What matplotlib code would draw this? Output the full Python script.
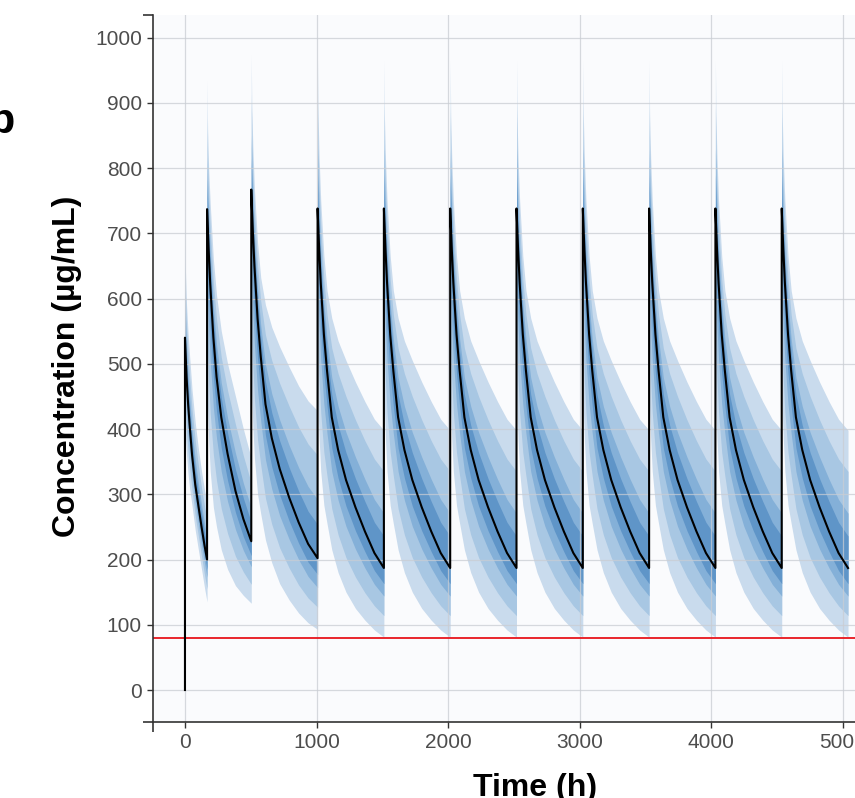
import matplotlib
matplotlib.use("Agg")
import matplotlib.pyplot as plt

plt.rcParams['font.family'] = ['Liberation Sans', 'DejaVu Sans']

# ─── DATA ─────────────────────────────────────────────────────────────────────
DOSE_TIMES = [0, 168, 504, 1008, 1512, 2016, 2520, 3024, 3528, 4032, 4536]
TARGET = 80  # red reference concentration, µg/mL

# cycle 1: dose at 0 h, 168 h interval
C1_T = [0, 4, 12, 24, 36, 54, 78, 102, 126, 150, 168]
C1_P05 = [400, 385, 360, 330, 308, 282, 245, 215, 185, 155, 135]
C1_P10 = [443, 427, 397, 363, 338, 306, 267, 236, 205, 175, 155]
C1_P25 = [483, 465, 431, 394, 365, 328, 286, 255, 223, 193, 173]
C1_P40 = [508, 489, 452, 413, 383, 342, 299, 267, 235, 205, 185]
C1_P50 = [540, 520, 480, 438, 405, 360, 315, 282, 250, 220, 200]
C1_P60 = [578, 548, 505, 463, 429, 383, 337, 302, 270, 240, 221]
C1_P75 = [606, 568, 524, 481, 447, 400, 353, 317, 284, 254, 236]
C1_P90 = [656, 604, 557, 513, 479, 430, 382, 344, 310, 280, 263]
C1_P95 = [705, 640, 590, 545, 510, 460, 410, 370, 335, 305, 290]

# cycle 2: dose at 168 h, 336 h interval
C2_T = [0, 4, 12, 24, 48, 72, 108, 156, 216, 276, 336]
C2_P05 = [470, 430, 385, 335, 280, 250, 215, 185, 160, 145, 133]
C2_P10 = [553, 518, 475, 424, 361, 321, 278, 240, 205, 181, 162]
C2_P25 = [628, 598, 556, 504, 433, 386, 335, 289, 246, 214, 189]
C2_P40 = [676, 649, 608, 556, 480, 427, 371, 321, 272, 235, 206]
C2_P50 = [737, 715, 675, 622, 540, 480, 418, 362, 305, 262, 228]
C2_P60 = [783, 748, 704, 650, 568, 509, 448, 394, 338, 294, 257]
C2_P75 = [816, 773, 725, 671, 588, 530, 471, 417, 363, 317, 279]
C2_P90 = [876, 817, 763, 708, 624, 568, 510, 459, 407, 359, 317]
C2_P95 = [935, 860, 800, 745, 660, 605, 550, 500, 450, 400, 355]

# cycle 3: dose at 504 h, 504 h interval
C3_T = [0, 4, 12, 24, 48, 72, 108, 156, 216, 288, 360, 432, 504]
C3_P05 = [490, 450, 405, 355, 300, 270, 230, 195, 163, 138, 118, 103, 93]
C3_P10 = [576, 541, 497, 446, 383, 345, 294, 254, 218, 187, 161, 141, 127]
C3_P25 = [653, 623, 581, 529, 459, 412, 353, 308, 267, 231, 200, 174, 157]
C3_P40 = [703, 676, 634, 582, 507, 456, 390, 342, 299, 259, 225, 196, 177]
C3_P50 = [767, 744, 703, 650, 569, 511, 438, 386, 339, 295, 257, 224, 202]
C3_P60 = [815, 779, 733, 677, 596, 539, 473, 425, 382, 341, 305, 274, 254]
C3_P75 = [850, 804, 755, 697, 615, 559, 499, 454, 414, 375, 341, 312, 292]
C3_P90 = [913, 850, 793, 733, 650, 596, 544, 505, 470, 435, 403, 377, 360]
C3_P95 = [975, 895, 832, 768, 685, 632, 590, 556, 526, 495, 466, 443, 428]

# later cycles (doses from 1008 h on, every 504 h): near steady state
SS_T = [0, 4, 12, 24, 48, 72, 108, 156, 216, 288, 360, 432, 504]
SS_P05 = [470, 430, 385, 335, 283, 255, 215, 180, 150, 125, 107, 92, 81]
SS_P10 = [553, 519, 475, 425, 364, 328, 278, 238, 203, 173, 149, 129, 114]
SS_P25 = [628, 599, 557, 506, 438, 393, 335, 291, 251, 216, 187, 162, 144]
SS_P40 = [676, 650, 609, 558, 485, 435, 371, 325, 282, 244, 212, 183, 163]
SS_P50 = [738, 716, 676, 624, 545, 489, 418, 368, 322, 280, 243, 210, 187]
SS_P60 = [790, 754, 708, 653, 573, 517, 453, 406, 364, 324, 289, 257, 236]
SS_P75 = [829, 782, 732, 674, 593, 538, 479, 435, 395, 357, 323, 292, 271]
SS_P90 = [897, 831, 773, 712, 629, 575, 524, 485, 450, 414, 382, 354, 335]
SS_P95 = [965, 880, 815, 750, 665, 612, 570, 535, 505, 472, 442, 415, 398]

CYCLES = (
    [(DOSE_TIMES[0], C1_T, [C1_P05, C1_P10, C1_P25, C1_P40, C1_P50, C1_P60, C1_P75, C1_P90, C1_P95]),
     (DOSE_TIMES[1], C2_T, [C2_P05, C2_P10, C2_P25, C2_P40, C2_P50, C2_P60, C2_P75, C2_P90, C2_P95]),
     (DOSE_TIMES[2], C3_T, [C3_P05, C3_P10, C3_P25, C3_P40, C3_P50, C3_P60, C3_P75, C3_P90, C3_P95])]
    + [(d, SS_T, [SS_P05, SS_P10, SS_P25, SS_P40, SS_P50, SS_P60, SS_P75, SS_P90, SS_P95])
       for d in DOSE_TIMES[3:]]
)

BAND_COLORS = ["#c9dbed", "#a8c7e3", "#84b0d8", "#5f95c8"]  # outer -> inner

# ─── PLOTTING ─────────────────────────────────────────────────────────────────
W, H = 855, 798
fig = plt.figure(figsize=(W / 100, H / 100), dpi=100)
fig.patch.set_facecolor("white")
ax = fig.add_axes([153 / W, 1 - 722 / H, 1 - 153 / W, (722 - 15) / H])
ax.set_facecolor("#fafbfd")

XMIN, XMAX = -243, 5093
YMIN, YMAX = -49, 1034.5

med_t = [0]
med_v = [0]
for dose, offs, q in CYCLES:
    tt = [dose + o for o in offs]
    for i, col in enumerate(BAND_COLORS):
        ax.fill_between(tt, q[i], q[8 - i], color=col, lw=0, zorder=1)
    med_t += tt
    med_v += q[4]

ax.axhline(TARGET, color="#e8141c", lw=1.3, zorder=2.2)
ax.plot(med_t, med_v, color="black", lw=1.5, zorder=3)

ax.set_xlim(XMIN, XMAX)
ax.set_ylim(YMIN, YMAX)
ax.set_xticks(range(0, 5001, 1000))
ax.set_yticks(range(0, 1001, 100))
ax.set_xticks([XMIN], minor=True)
ax.set_yticks([YMIN, YMAX], minor=True)

ax.set_axisbelow("line")
ax.grid(True, which="major", color="#c9cdd3", lw=0.9, alpha=0.75)

for s in ["top", "right"]:
    ax.spines[s].set_visible(False)
for s in ["left", "bottom"]:
    ax.spines[s].set_color("#333333")
    ax.spines[s].set_linewidth(1.2)

ax.tick_params(which="major", length=4.5, width=1.0, color="#333333",
               labelsize=15, labelcolor="#4d4d4d", pad=3.5)
ax.tick_params(which="minor", length=7.5, width=1.2, color="#333333")

fig.text(75 / W, 1 - 366 / H, "Concentration (µg/mL)", rotation=90,
         rotation_mode="anchor", ha="center", va="baseline",
         fontsize=23, fontweight="bold")
fig.text(535 / W, 2 / H, "Time (h)", ha="center", va="baseline",
         fontsize=23, fontweight="bold")
fig.text(-12 / W, 1 - 133 / H, "b", ha="left", va="baseline",
         fontsize=31, fontweight="bold")

fig.savefig("out.png", dpi=100)
